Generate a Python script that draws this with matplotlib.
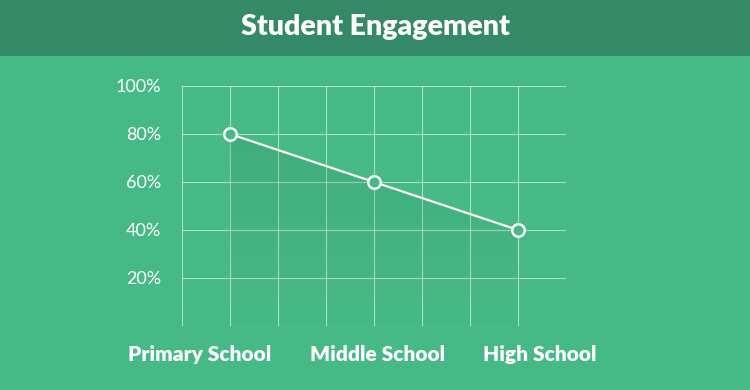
import numpy as np
import matplotlib.pyplot as plt
from matplotlib.patches import Rectangle
from matplotlib.colors import LinearSegmentedColormap

# data
levels = ['Primary School', 'Middle School', 'High School']
engagement = [80, 60, 40]
ytick_vals = [20, 40, 60, 80, 100]

bg = '#46ba86'
bar = '#348a66'

fig = plt.figure(figsize=(7.5, 3.9), dpi=100)
fig.patch.set_facecolor(bg)

# title bar
fig.patches.append(Rectangle((0, 1 - 56 / 390), 1, 56 / 390, transform=fig.transFigure,
                             facecolor=bar, edgecolor='none', zorder=0))
fig.text(0.5, 1 - 27 / 390, 'Student Engagement', ha='center', va='center',
         color='white', fontsize=20.5, fontweight='heavy', family='Lato')

# plot area 182..566 x 86..326 px
ax = fig.add_axes([182 / 750, 1 - 326 / 390, 384 / 750, 240 / 390])
ax.set_facecolor(bg)
x = np.arange(len(levels))
ax.set_xlim(-1 / 3, 2 + 1 / 3)
ax.set_ylim(0, 100)

# grid
for gx in np.arange(-1 / 3, 2 + 0.4, 1 / 3):
    ax.axvline(gx, color='white', alpha=0.55, lw=0.8, zorder=1)
for gy in range(0, 101, 20):
    ax.axhline(gy, color='white', alpha=0.55, lw=0.8, zorder=1)

# gradient fill under the line
poly = ax.fill_between(x, engagement, 0, color='none', zorder=2)
grad = np.linspace(0, 1, 256).reshape(-1, 1)
cmap = LinearSegmentedColormap.from_list('g', [(0.2, 0.55, 0.4, 0.0), (0.2, 0.55, 0.4, 0.28)])
img = ax.imshow(grad, extent=[x[0], x[-1], 0, max(engagement)], origin='lower',
                cmap=cmap, aspect='auto', zorder=2)
img.set_clip_path(poly.get_paths()[0], transform=ax.transData)

ax.plot(x, engagement, color='white', lw=1.6, zorder=3,
        marker='o', markersize=9, markerfacecolor=bg, markeredgecolor='white',
        markeredgewidth=1.8, clip_on=False)

for s in ax.spines.values():
    s.set_visible(False)
ax.set_xticks(x)
ax.set_xticklabels([])
ax.set_yticks(ytick_vals)
ax.set_yticklabels([f'{v}%' for v in ytick_vals], color='white', fontsize=13,
                   family='Lato', fontweight='normal')
ax.tick_params(length=0)
ax.tick_params(axis='y', pad=15)

# category labels sit in their own evenly spread row below the chart
label_centers = [200, 378, 540]
for cx, name in zip(label_centers, levels):
    fig.text(cx / 750, 1 - 361 / 390, name, ha='center', va='baseline',
             color='white', fontsize=15, fontweight='heavy', family='Lato')

fig.savefig('out.png', dpi=100, facecolor=bg)
